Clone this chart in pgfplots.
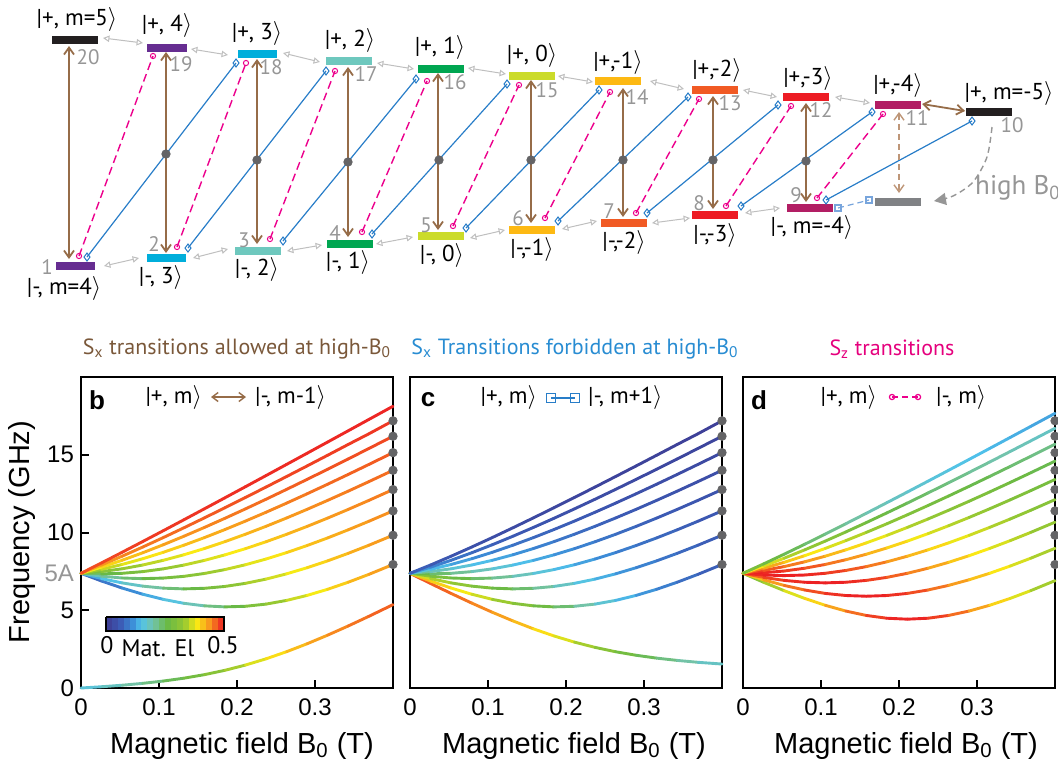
\documentclass[border=0pt]{standalone}
\usepackage{fontspec}
\setmainfont{PT Sans}
\newfontfamily\helv{Liberation Sans}
\usepackage{pgfplots}
\pgfplotsset{compat=1.18}
\usepackage{pgfplotstable}
\usetikzlibrary{arrows.meta}
\definecolor{brn}{RGB}{150,108,72}
\definecolor{brnL}{RGB}{190,150,120}
\definecolor{brnT}{RGB}{122,88,58}
\definecolor{blu}{RGB}{40,125,200}
\definecolor{bluT}{RGB}{40,140,210}
\definecolor{bluL}{RGB}{120,165,220}
\definecolor{mag}{RGB}{236,0,140}
\definecolor{magT}{RGB}{229,0,125}
\definecolor{dgray}{RGB}{100,100,102}
\definecolor{lgray}{RGB}{150,150,150}
\definecolor{cBlack}{RGB}{35,31,32}
\definecolor{cPurple}{RGB}{102,45,145}
\definecolor{cCyan}{RGB}{0,174,219}
\definecolor{cTeal}{RGB}{110,200,190}
\definecolor{cGreen}{RGB}{0,166,81}
\definecolor{cYG}{RGB}{203,219,42}
\definecolor{cAmber}{RGB}{253,185,19}
\definecolor{cOrange}{RGB}{241,90,36}
\definecolor{cRed}{RGB}{237,28,36}
\definecolor{cMag}{RGB}{178,30,100}
\definecolor{cGray}{RGB}{128,130,133}
\pgfplotsset{colormap={mat}{rgb255(0pt)=(62,58,145); rgb255(12pt)=(60,90,180); rgb255(22pt)=(60,140,215); rgb255(30pt)=(80,195,235); rgb255(40pt)=(115,195,170); rgb255(52pt)=(105,185,70); rgb255(66pt)=(150,200,50); rgb255(77pt)=(250,235,20); rgb255(88pt)=(248,150,30); rgb255(100pt)=(236,30,36)}}

% panel b: |+,m> <-> |-,m-1>  (y = frequency GHz, c = matrix element)
\pgfplotstableread{
B y1 y2 y3 y4 y5 y6 y7 y8 y9 y10 c1 c2 c3 c4 c5 c6 c7 c8 c9 c10
0 7.377 7.377 7.377 7.377 7.377 7.377 7.377 7.377 7.377 0 0.474 0.424 0.374 0.324 0.274 0.224 0.173 0.122 0.071 0.158
0.02635 8.047 7.911 7.772 7.631 7.487 7.340 7.190 7.037 6.880 0.081 0.479 0.436 0.392 0.346 0.298 0.248 0.197 0.142 0.084 0.173
0.05269 8.728 8.475 8.214 7.944 7.665 7.376 7.074 6.759 6.429 0.179 0.482 0.445 0.406 0.365 0.321 0.273 0.222 0.165 0.101 0.191
0.07904 9.417 9.063 8.695 8.311 7.908 7.484 7.033 6.552 6.032 0.299 0.485 0.453 0.419 0.382 0.342 0.298 0.248 0.190 0.121 0.212
0.10539 10.113 9.672 9.211 8.725 8.210 7.661 7.069 6.422 5.701 0.447 0.487 0.459 0.430 0.397 0.361 0.321 0.274 0.218 0.145 0.236
0.13173 10.814 10.298 9.755 9.180 8.565 7.904 7.180 6.374 5.448 0.630 0.488 0.464 0.438 0.410 0.378 0.342 0.299 0.246 0.174 0.263
0.15808 11.520 10.938 10.323 9.669 8.967 8.205 7.364 6.411 5.284 0.857 0.490 0.469 0.446 0.421 0.393 0.361 0.323 0.275 0.207 0.292
0.18442 12.229 11.589 10.911 10.188 9.410 8.560 7.615 6.531 5.217 1.137 0.491 0.472 0.452 0.430 0.406 0.378 0.345 0.303 0.242 0.323
0.21077 12.942 12.250 11.517 10.733 9.888 8.961 7.926 6.730 5.255 1.475 0.492 0.475 0.458 0.439 0.417 0.393 0.365 0.330 0.279 0.354
0.23712 13.658 12.920 12.137 11.300 10.396 9.404 8.293 7.002 5.395 1.875 0.493 0.478 0.462 0.445 0.427 0.406 0.382 0.353 0.314 0.382
0.26346 14.376 13.597 12.770 11.886 10.931 9.882 8.706 7.340 5.632 2.333 0.494 0.480 0.466 0.451 0.435 0.417 0.397 0.374 0.345 0.406
0.28981 15.095 14.279 13.414 12.488 11.488 10.391 9.161 7.734 5.954 2.843 0.494 0.482 0.470 0.456 0.442 0.427 0.410 0.392 0.372 0.425
0.31616 15.817 14.967 14.067 13.104 12.065 10.926 9.651 8.176 6.348 3.398 0.495 0.484 0.473 0.461 0.448 0.435 0.421 0.407 0.394 0.441
0.34250 16.539 15.660 14.728 13.732 12.658 11.483 10.172 8.659 6.802 3.987 0.495 0.485 0.475 0.465 0.454 0.442 0.431 0.420 0.412 0.453
0.36885 17.264 16.341 15.396 14.371 13.266 12.060 10.718 9.176 7.303 4.605 0.496 0.487 0.477 0.468 0.458 0.449 0.439 0.431 0.427 0.462
0.4 18.119 17.183 16.192 15.136 14.000 12.762 11.390 9.824 7.943 5.362 0.496 0.488 0.480 0.471 0.463 0.455 0.447 0.441 0.440 0.470
}\tabB

% panel c: |+,m> <-> |-,m+1>
\pgfplotstableread{
B y1 y2 y3 y4 y5 y6 y7 y8 y9 c1 c2 c3 c4 c5 c6 c7 c8 c9
0 7.377 7.377 7.377 7.377 7.377 7.377 7.377 7.377 7.377 0.071 0.122 0.173 0.224 0.274 0.324 0.374 0.424 0.474
0.02635 7.911 7.772 7.631 7.487 7.340 7.190 7.037 6.880 6.720 0.060 0.105 0.152 0.200 0.249 0.300 0.354 0.410 0.469
0.05269 8.475 8.214 7.944 7.665 7.376 7.074 6.759 6.429 6.081 0.051 0.091 0.133 0.177 0.224 0.275 0.331 0.393 0.462
0.07904 9.063 8.695 8.311 7.908 7.484 7.033 6.552 6.032 5.463 0.044 0.079 0.116 0.156 0.200 0.250 0.306 0.372 0.453
0.10539 9.672 9.211 8.725 8.210 7.661 7.069 6.422 5.701 4.873 0.038 0.068 0.101 0.137 0.177 0.224 0.279 0.347 0.441
0.13173 10.298 9.755 9.180 8.565 7.904 7.180 6.374 5.448 4.319 0.033 0.060 0.089 0.120 0.156 0.199 0.250 0.319 0.425
0.15808 10.938 10.323 9.669 8.967 8.205 7.364 6.411 5.284 3.808 0.029 0.053 0.078 0.106 0.137 0.175 0.222 0.287 0.406
0.18442 11.589 10.911 10.188 9.410 8.560 7.615 6.531 5.217 3.350 0.026 0.046 0.068 0.093 0.121 0.153 0.194 0.252 0.382
0.21077 12.250 11.517 10.733 9.888 8.961 7.926 6.730 5.255 2.951 0.023 0.041 0.061 0.082 0.106 0.134 0.169 0.218 0.354
0.23712 12.920 12.137 11.300 10.396 9.404 8.293 7.002 5.395 2.613 0.020 0.037 0.054 0.072 0.093 0.117 0.145 0.184 0.323
0.26346 13.597 12.770 11.886 10.931 9.882 8.706 7.340 5.632 2.333 0.018 0.033 0.048 0.064 0.082 0.102 0.125 0.154 0.292
0.28981 14.279 13.414 12.488 11.488 10.391 9.161 7.734 5.954 2.106 0.017 0.030 0.043 0.057 0.073 0.089 0.107 0.127 0.263
0.31616 14.967 14.067 13.104 12.065 10.926 9.651 8.176 6.348 1.922 0.015 0.027 0.039 0.051 0.064 0.078 0.093 0.106 0.236
0.34250 15.660 14.728 13.732 12.658 11.483 10.172 8.659 6.802 1.774 0.014 0.024 0.035 0.046 0.057 0.069 0.080 0.088 0.212
0.36885 16.341 15.396 14.371 13.266 12.060 10.718 9.176 7.303 1.654 0.013 0.022 0.032 0.041 0.051 0.061 0.069 0.073 0.191
0.4 17.183 16.192 15.136 14.000 12.762 11.390 9.824 7.943 1.541 0.011 0.020 0.028 0.037 0.045 0.053 0.059 0.060 0.171
}\tabC

% panel d: |+,m> <-> |-,m>
\pgfplotstableread{
B y1 y2 y3 y4 y5 y6 y7 y8 y9 c1 c2 c3 c4 c5 c6 c7 c8 c9
0 7.377 7.377 7.377 7.377 7.377 7.377 7.377 7.377 7.377 0.300 0.400 0.458 0.490 0.500 0.490 0.458 0.400 0.300
0.02635 7.980 7.842 7.702 7.559 7.414 7.266 7.114 6.960 6.801 0.277 0.376 0.439 0.478 0.498 0.497 0.475 0.424 0.325
0.05269 8.603 8.346 8.081 7.807 7.523 7.228 6.920 6.598 6.260 0.257 0.354 0.418 0.463 0.490 0.500 0.488 0.447 0.354
0.07904 9.243 8.883 8.508 8.115 7.702 7.266 6.801 6.303 5.762 0.239 0.332 0.397 0.445 0.479 0.497 0.497 0.468 0.384
0.10539 9.897 9.447 8.975 8.476 7.945 7.377 6.761 6.083 5.320 0.224 0.312 0.377 0.426 0.464 0.490 0.500 0.485 0.416
0.13173 10.562 10.034 9.476 8.883 8.248 7.559 6.801 5.948 4.949 0.209 0.294 0.357 0.407 0.447 0.478 0.497 0.496 0.447
0.15808 11.236 10.639 10.007 9.331 8.603 7.807 6.920 5.902 4.666 0.197 0.277 0.338 0.387 0.429 0.463 0.489 0.500 0.474
0.18442 11.918 11.261 10.562 9.814 9.005 8.115 7.114 5.948 4.487 0.186 0.262 0.320 0.368 0.410 0.445 0.475 0.496 0.493
0.21077 12.606 11.895 11.139 10.328 9.447 8.476 7.377 6.083 4.426 0.176 0.248 0.304 0.350 0.390 0.426 0.458 0.485 0.500
0.23712 13.299 12.541 11.734 10.867 9.925 8.883 7.702 6.303 4.487 0.166 0.235 0.288 0.333 0.372 0.407 0.439 0.468 0.493
0.26346 13.997 13.196 12.344 11.428 10.433 9.331 8.081 6.598 4.666 0.158 0.224 0.274 0.316 0.354 0.387 0.418 0.447 0.474
0.28981 14.699 13.860 12.968 12.009 10.967 9.814 8.508 6.960 4.949 0.151 0.213 0.261 0.301 0.336 0.368 0.397 0.424 0.447
0.31616 15.404 14.531 13.603 12.606 11.523 10.328 8.975 7.377 5.320 0.144 0.203 0.249 0.287 0.320 0.350 0.377 0.400 0.416
0.34250 16.112 15.208 14.247 13.217 12.099 10.867 9.476 7.842 5.762 0.137 0.194 0.237 0.273 0.305 0.333 0.357 0.376 0.384
0.36885 16.822 15.891 14.901 13.841 12.692 11.428 10.007 8.346 6.260 0.132 0.186 0.227 0.261 0.291 0.316 0.338 0.354 0.354
0.4 17.663 16.702 15.681 14.590 13.410 12.115 10.665 8.983 6.903 0.125 0.177 0.216 0.248 0.275 0.298 0.317 0.328 0.321
}\tabD

% colour bar samples (x pixel, y pixel, matrix element)
\pgfplotstableread{
x y c
106 624 0
111.9 624 0.025
117.8 624 0.05
123.7 624 0.075
129.6 624 0.1
135.5 624 0.125
141.4 624 0.15
147.3 624 0.175
153.2 624 0.2
159.1 624 0.225
165 624 0.25
170.9 624 0.275
176.8 624 0.3
182.7 624 0.325
188.6 624 0.35
194.5 624 0.375
200.4 624 0.4
206.3 624 0.425
212.2 624 0.45
218.1 624 0.475
224 624 0.5
}\tabCB

\newcommand{\fk}{\fontsize{11.5}{13}\selectfont}
\newcommand{\fn}{\fontsize{10.5}{12}\selectfont\color{lgray}}
\newcommand{\ra}{$\rangle$}

\pgfplotsset{
  lvl/.style={line width=4pt, line cap=butt},
  gcon/.style={draw=black!25, line width=0.5pt, {Triangle[open,fill=white,length=3.2pt,width=3.2pt]}-{Triangle[open,fill=white,length=3.2pt,width=3.2pt]}},
  barr/.style={brn, line width=0.9pt, {Straight Barb[length=3.5pt,width=5pt]}-{Straight Barb[length=3.5pt,width=5pt]}},
  bline/.style={blu, line width=0.6pt, mark=diamond, mark size=2pt, mark options={fill=white, line width=0.5pt}},
  mline/.style={mag, line width=0.7pt, dash pattern=on 4pt off 2.2pt, mark=o, mark size=1.3pt, mark options={solid, fill=white, line width=0.5pt}},
  curve/.style={mesh, point meta=explicit, line width=1.45pt, line cap=round, line join=round},
  panel/.style={scale only axis, width=156pt, height=155.5pt, xmin=0, xmax=0.4, ymin=0, ymax=20,
    axis line style={line width=1pt}, tick align=inside, tick pos=left, major tick length=4pt,
    tick style={line width=1pt, black}, xtick={0,0.1,0.2,0.3},
    ticklabel style={font=\helv\fontsize{12}{14}\selectfont},
    xticklabel style={yshift=-2pt},
    /pgf/number format/assume math mode=true,
    point meta min=0, point meta max=0.5, colormap name=mat, clip=false},
  dots/.style={only marks, mark=*, mark size=2.1pt, dgray},
}

\begin{document}
\begin{tikzpicture}
\useasboundingbox (0,0) rectangle (529pt,-384.5pt);
% ================= overlay / energy level diagram =================
\begin{axis}[at={(0pt,0pt)}, anchor=north west, scale only axis, width=529pt, height=384.5pt,
  xmin=0, xmax=1058, ymin=0, ymax=769, y dir=reverse, hide axis, clip=false,
  point meta min=0, point meta max=0.5, colormap name=mat]
% gray connections between neighbouring levels
\addplot[gcon] coordinates {(103,38) (143,43)};
\addplot[gcon] coordinates {(191,49) (228,55)};
\addplot[gcon] coordinates {(283,53) (320,62)};
\addplot[gcon] coordinates {(377,63) (414,69)};
\addplot[gcon] coordinates {(468,68) (506,74)};
\addplot[gcon] coordinates {(558,76) (593,82)};
\addplot[gcon] coordinates {(650,81) (684,89)};
\addplot[gcon] coordinates {(743,90) (777,97)};
\addplot[gcon] coordinates {(835,97) (870,103)};
\addplot[gcon] coordinates {(104,266) (139,258)};
\addplot[gcon] coordinates {(193,258) (228,249)};
\addplot[gcon] coordinates {(287,251) (322,245)};
\addplot[gcon] coordinates {(376,244) (413,237)};
\addplot[gcon] coordinates {(470,238) (505,230)};
\addplot[gcon] coordinates {(562,229) (597,221)};
\addplot[gcon] coordinates {(652,223) (690,218)};
\addplot[gcon] coordinates {(745,213) (780,208)};
% blue lines |+,m> - |-,m+1>
\addplot[bline] coordinates {(87,257) (236,63)};
\addplot[bline] coordinates {(188,248) (326,71)};
\addplot[bline] coordinates {(283,241) (416,79)};
\addplot[bline] coordinates {(372,234) (507,84)};
\addplot[bline] coordinates {(466,228) (599,90)};
\addplot[bline] coordinates {(558,221) (688,97)};
\addplot[bline] coordinates {(647,213) (778,105)};
\addplot[bline] coordinates {(741,206) (872,112)};
\addplot[bline] coordinates {(826,200) (972,121)};
\addplot[bluL, line width=0.6pt, dash pattern=on 3pt off 2pt, mark=square, mark size=1.5pt, mark options={solid, fill=white}] coordinates {(838,208) (869,200)};
% magenta dashed lines |+,m> - |-,m>
\addplot[mline] coordinates {(79,256) (153,56)};
\addplot[mline] coordinates {(177,247) (246,63)};
\addplot[mline] coordinates {(270,239) (335,71)};
\addplot[mline] coordinates {(362,232) (427,81)};
\addplot[mline] coordinates {(453,226) (519,85)};
\addplot[mline] coordinates {(545,218) (610,92)};
\addplot[mline] coordinates {(636,213) (699,99)};
\addplot[mline] coordinates {(726,206) (791,106)};
\addplot[mline] coordinates {(817,198) (883,114)};
% brown arrows |+,m> - |-,m-1>
\addplot[barr] coordinates {(69,46) (69,259)};
\addplot[barr] coordinates {(166,52) (166,253)};
\addplot[barr] coordinates {(257,59) (257,244)};
\addplot[barr] coordinates {(348,67) (348,237)};
\addplot[barr] coordinates {(438,73) (438,230)};
\addplot[barr] coordinates {(531,80) (531,223)};
\addplot[barr] coordinates {(623,88) (623,217)};
\addplot[barr] coordinates {(713,96) (713,209)};
\addplot[barr] coordinates {(806,103) (806,202)};
\addplot[barr] coordinates {(922,104) (965,111)};
\addplot[brnL, line width=0.7pt, dash pattern=on 3pt off 2pt, {Straight Barb[length=3.5pt,width=5pt]}-{Straight Barb[length=3.5pt,width=5pt]}] coordinates {(899,112) (899,193)};
% crossing dots
\addplot[dots] coordinates {(166,154) (257,160) (348,162) (439,160) (531,160) (623,160) (713,160) (806,161)};
% high B0 arrow
\addplot[lgray, line width=0.7pt, dash pattern=on 3pt off 2pt, smooth, -{Triangle[length=6pt,width=6pt]}] coordinates {(992,127) (987,157) (973,182) (953,196) (934,201)};
% levels
\addplot[lvl, cBlack] coordinates {(52,40) (98,40)};
\addplot[lvl, cPurple] coordinates {(147,48) (187,48)};
\addplot[lvl, cCyan] coordinates {(238,54) (277,54)};
\addplot[lvl, cTeal] coordinates {(326,61) (372,61)};
\addplot[lvl, cGreen] coordinates {(418,69) (464,69)};
\addplot[lvl, cYG] coordinates {(509,76) (555,76)};
\addplot[lvl, cAmber] coordinates {(595,81) (641,81)};
\addplot[lvl, cOrange] coordinates {(692,90) (738,90)};
\addplot[lvl, cRed] coordinates {(783,97) (829,97)};
\addplot[lvl, cMag] coordinates {(875,105) (921,105)};
\addplot[lvl, cBlack] coordinates {(966,112) (1012,112)};
\addplot[lvl, cPurple] coordinates {(56,266) (95,266)};
\addplot[lvl, cCyan] coordinates {(147,258) (186,258)};
\addplot[lvl, cTeal] coordinates {(235,251) (281,251)};
\addplot[lvl, cGreen] coordinates {(327,244) (373,244)};
\addplot[lvl, cYG] coordinates {(418,236) (464,236)};
\addplot[lvl, cAmber] coordinates {(509,230) (555,230)};
\addplot[lvl, cOrange] coordinates {(601,223) (647,223)};
\addplot[lvl, cRed] coordinates {(692,215) (738,215)};
\addplot[lvl, cMag] coordinates {(787,208) (833,208)};
\addplot[lvl, cGray] coordinates {(875,202) (921,202)};
% ket labels
\node[font=\fk] at (axis cs:77,19) {|+, m=5\ra};
\node[font=\fk] at (axis cs:167,25) {|+, 4\ra};
\node[font=\fk] at (axis cs:257,33) {|+, 3\ra};
\node[font=\fk] at (axis cs:350,40) {|+, 2\ra};
\node[font=\fk] at (axis cs:440,47) {|+, 1\ra};
\node[font=\fk] at (axis cs:532,55) {|+, 0\ra};
\node[font=\fk] at (axis cs:618,62) {|+,-1\ra};
\node[font=\fk] at (axis cs:717,70) {|+,-2\ra};
\node[font=\fk] at (axis cs:808,78) {|+,-3\ra};
\node[font=\fk] at (axis cs:898,85) {|+,-4\ra};
\node[font=\fk] at (axis cs:1009,93) {|+, m=-5\ra};
\node[font=\fk] at (axis cs:64,288) {|-, m=4\ra};
\node[font=\fk] at (axis cs:161,277) {|-, 3\ra};
\node[font=\fk] at (axis cs:257,269) {|-, 2\ra};
\node[font=\fk] at (axis cs:348,262) {|-, 1\ra};
\node[font=\fk] at (axis cs:442,255) {|-, 0\ra};
\node[font=\fk] at (axis cs:532,249) {|-,-1\ra};
\node[font=\fk] at (axis cs:624,242) {|-,-2\ra};
\node[font=\fk] at (axis cs:715,235) {|-,-3\ra};
\node[font=\fk] at (axis cs:812,227) {|-, m=-4\ra};
% level numbers
\node[font=\fn] at (axis cs:88,57) {20};
\node[font=\fn] at (axis cs:181,64) {19};
\node[font=\fn] at (axis cs:271,67) {18};
\node[font=\fn] at (axis cs:366,74) {17};
\node[font=\fn] at (axis cs:455,82) {16};
\node[font=\fn] at (axis cs:547,90) {15};
\node[font=\fn] at (axis cs:637,97) {14};
\node[font=\fn] at (axis cs:730,103) {13};
\node[font=\fn] at (axis cs:821,110) {12};
\node[font=\fn] at (axis cs:917,118) {11};
\node[font=\fn] at (axis cs:1012,125) {10};
\node[font=\fn] at (axis cs:47,267) {1};
\node[font=\fn] at (axis cs:154,244) {2};
\node[font=\fn] at (axis cs:244,240) {3};
\node[font=\fn] at (axis cs:335,233) {4};
\node[font=\fn] at (axis cs:426,225) {5};
\node[font=\fn] at (axis cs:518,218) {6};
\node[font=\fn] at (axis cs:609,211) {7};
\node[font=\fn] at (axis cs:699,203) {8};
\node[font=\fn] at (axis cs:796,195) {9};
\node[font=\fontsize{13.5}{15}\selectfont, text=lgray] at (axis cs:1018,188) {high B\textsubscript{0}};
% panel titles
\node[font=\fontsize{11}{13}\selectfont, text=brnT] at (axis cs:237,349) {S\textsubscript{x} transitions allowed at high-B\textsubscript{0}};
\node[font=\fontsize{11}{13}\selectfont, text=bluT] at (axis cs:575,349) {S\textsubscript{x} Transitions forbidden at high-B\textsubscript{0}};
\node[font=\fontsize{11}{13}\selectfont, text=magT] at (axis cs:892,349) {S\textsubscript{z} transitions};
% panel letters and kets
\node[font=\helv\bfseries\fontsize{13}{15}\selectfont] at (axis cs:97,400) {b};
\node[font=\helv\bfseries\fontsize{13}{15}\selectfont] at (axis cs:428,400) {c};
\node[font=\helv\bfseries\fontsize{13}{15}\selectfont] at (axis cs:759,400) {d};
\node[font=\fk, anchor=east] at (axis cs:209,397) {|+, m\ra};
\addplot[brn, line width=0.7pt, {Straight Barb[length=3pt,width=4.5pt]}-{Straight Barb[length=3pt,width=4.5pt]}] coordinates {(211,397) (246,397)};
\node[font=\fk, anchor=west] at (axis cs:248,397) {|-, m-1\ra};
\node[font=\fk, anchor=east] at (axis cs:544,397) {|+, m\ra};
\addplot[blu, line width=0.6pt, mark=square, mark size=2.2pt, mark options={fill=white}] coordinates {(551,398) (575,398)};
\node[font=\fk, anchor=west] at (axis cs:581,397) {|-, m+1\ra};
\node[font=\fk, anchor=east] at (axis cs:884,397) {|+, m\ra};
\addplot[mag, line width=0.6pt, dash pattern=on 3pt off 2pt, mark=o, mark size=1.3pt, mark options={solid, fill=white}] coordinates {(892,397) (918,397)};
\node[font=\fk, anchor=west] at (axis cs:929,397) {|-, m\ra};
% colour bar
\addplot[mesh, point meta=explicit, line width=7pt, line cap=butt] table[x=x, y=y, meta=c] \tabCB;
\addplot[black, line width=1.2pt, line join=miter] coordinates {(106,617) (224,617) (224,631) (106,631) (106,617)};
\node[font=\fontsize{12}{14}\selectfont] at (axis cs:107,645) {0};
\node[font=\fontsize{12}{14}\selectfont] at (axis cs:158,648) {Mat. El};
\node[font=\fontsize{12}{14}\selectfont] at (axis cs:223,645) {0.5};
% axis labels
\node[font=\helv\fontsize{14.5}{16}\selectfont, rotate=90] at (axis cs:22,532) {Frequency (GHz)};
\node[font=\helv\fontsize{14.5}{16}\selectfont] at (axis cs:242,746) {Magnetic field B\textsubscript{0} (T)};
\node[font=\helv\fontsize{14.5}{16}\selectfont] at (axis cs:574,746) {Magnetic field B\textsubscript{0} (T)};
\node[font=\helv\fontsize{14.5}{16}\selectfont] at (axis cs:906,746) {Magnetic field B\textsubscript{0} (T)};
\end{axis}

% ================= panel b =================
\begin{axis}[panel, at={(40.5pt,-344pt)}, anchor=south west,
  ytick={0,5,10,15}, extra y ticks={7.377}, extra y tick labels={5A},
  extra y tick style={major tick length=0pt, yticklabel style={text=lgray}}]
\addplot[curve] table[x=B, y=y10, meta=c10] \tabB;
\addplot[curve] table[x=B, y=y9, meta=c9] \tabB;
\addplot[curve] table[x=B, y=y8, meta=c8] \tabB;
\addplot[curve] table[x=B, y=y7, meta=c7] \tabB;
\addplot[curve] table[x=B, y=y6, meta=c6] \tabB;
\addplot[curve] table[x=B, y=y5, meta=c5] \tabB;
\addplot[curve] table[x=B, y=y4, meta=c4] \tabB;
\addplot[curve] table[x=B, y=y3, meta=c3] \tabB;
\addplot[curve] table[x=B, y=y2, meta=c2] \tabB;
\addplot[curve] table[x=B, y=y1, meta=c1] \tabB;
\addplot[dots] coordinates {(0.4,7.943) (0.4,9.824) (0.4,11.390) (0.4,12.762) (0.4,14.000) (0.4,15.136) (0.4,16.192) (0.4,17.183)};
\end{axis}

% ================= panel c =================
\begin{axis}[panel, at={(205pt,-344pt)}, anchor=south west, ytick=\empty]
\addplot[curve] table[x=B, y=y9, meta=c9] \tabC;
\addplot[curve] table[x=B, y=y8, meta=c8] \tabC;
\addplot[curve] table[x=B, y=y7, meta=c7] \tabC;
\addplot[curve] table[x=B, y=y6, meta=c6] \tabC;
\addplot[curve] table[x=B, y=y5, meta=c5] \tabC;
\addplot[curve] table[x=B, y=y4, meta=c4] \tabC;
\addplot[curve] table[x=B, y=y3, meta=c3] \tabC;
\addplot[curve] table[x=B, y=y2, meta=c2] \tabC;
\addplot[curve] table[x=B, y=y1, meta=c1] \tabC;
\addplot[dots] coordinates {(0.4,7.943) (0.4,9.824) (0.4,11.390) (0.4,12.762) (0.4,14.000) (0.4,15.136) (0.4,16.192) (0.4,17.183)};
\end{axis}

% ================= panel d =================
\begin{axis}[panel, at={(371.5pt,-344pt)}, anchor=south west, ytick=\empty]
\addplot[curve] table[x=B, y=y9, meta=c9] \tabD;
\addplot[curve] table[x=B, y=y8, meta=c8] \tabD;
\addplot[curve] table[x=B, y=y7, meta=c7] \tabD;
\addplot[curve] table[x=B, y=y6, meta=c6] \tabD;
\addplot[curve] table[x=B, y=y5, meta=c5] \tabD;
\addplot[curve] table[x=B, y=y4, meta=c4] \tabD;
\addplot[curve] table[x=B, y=y3, meta=c3] \tabD;
\addplot[curve] table[x=B, y=y2, meta=c2] \tabD;
\addplot[curve] table[x=B, y=y1, meta=c1] \tabD;
\addplot[dots] coordinates {(0.4,7.943) (0.4,9.824) (0.4,11.390) (0.4,12.762) (0.4,14.000) (0.4,15.136) (0.4,16.192) (0.4,17.183)};
\end{axis}
\end{tikzpicture}
\end{document}
